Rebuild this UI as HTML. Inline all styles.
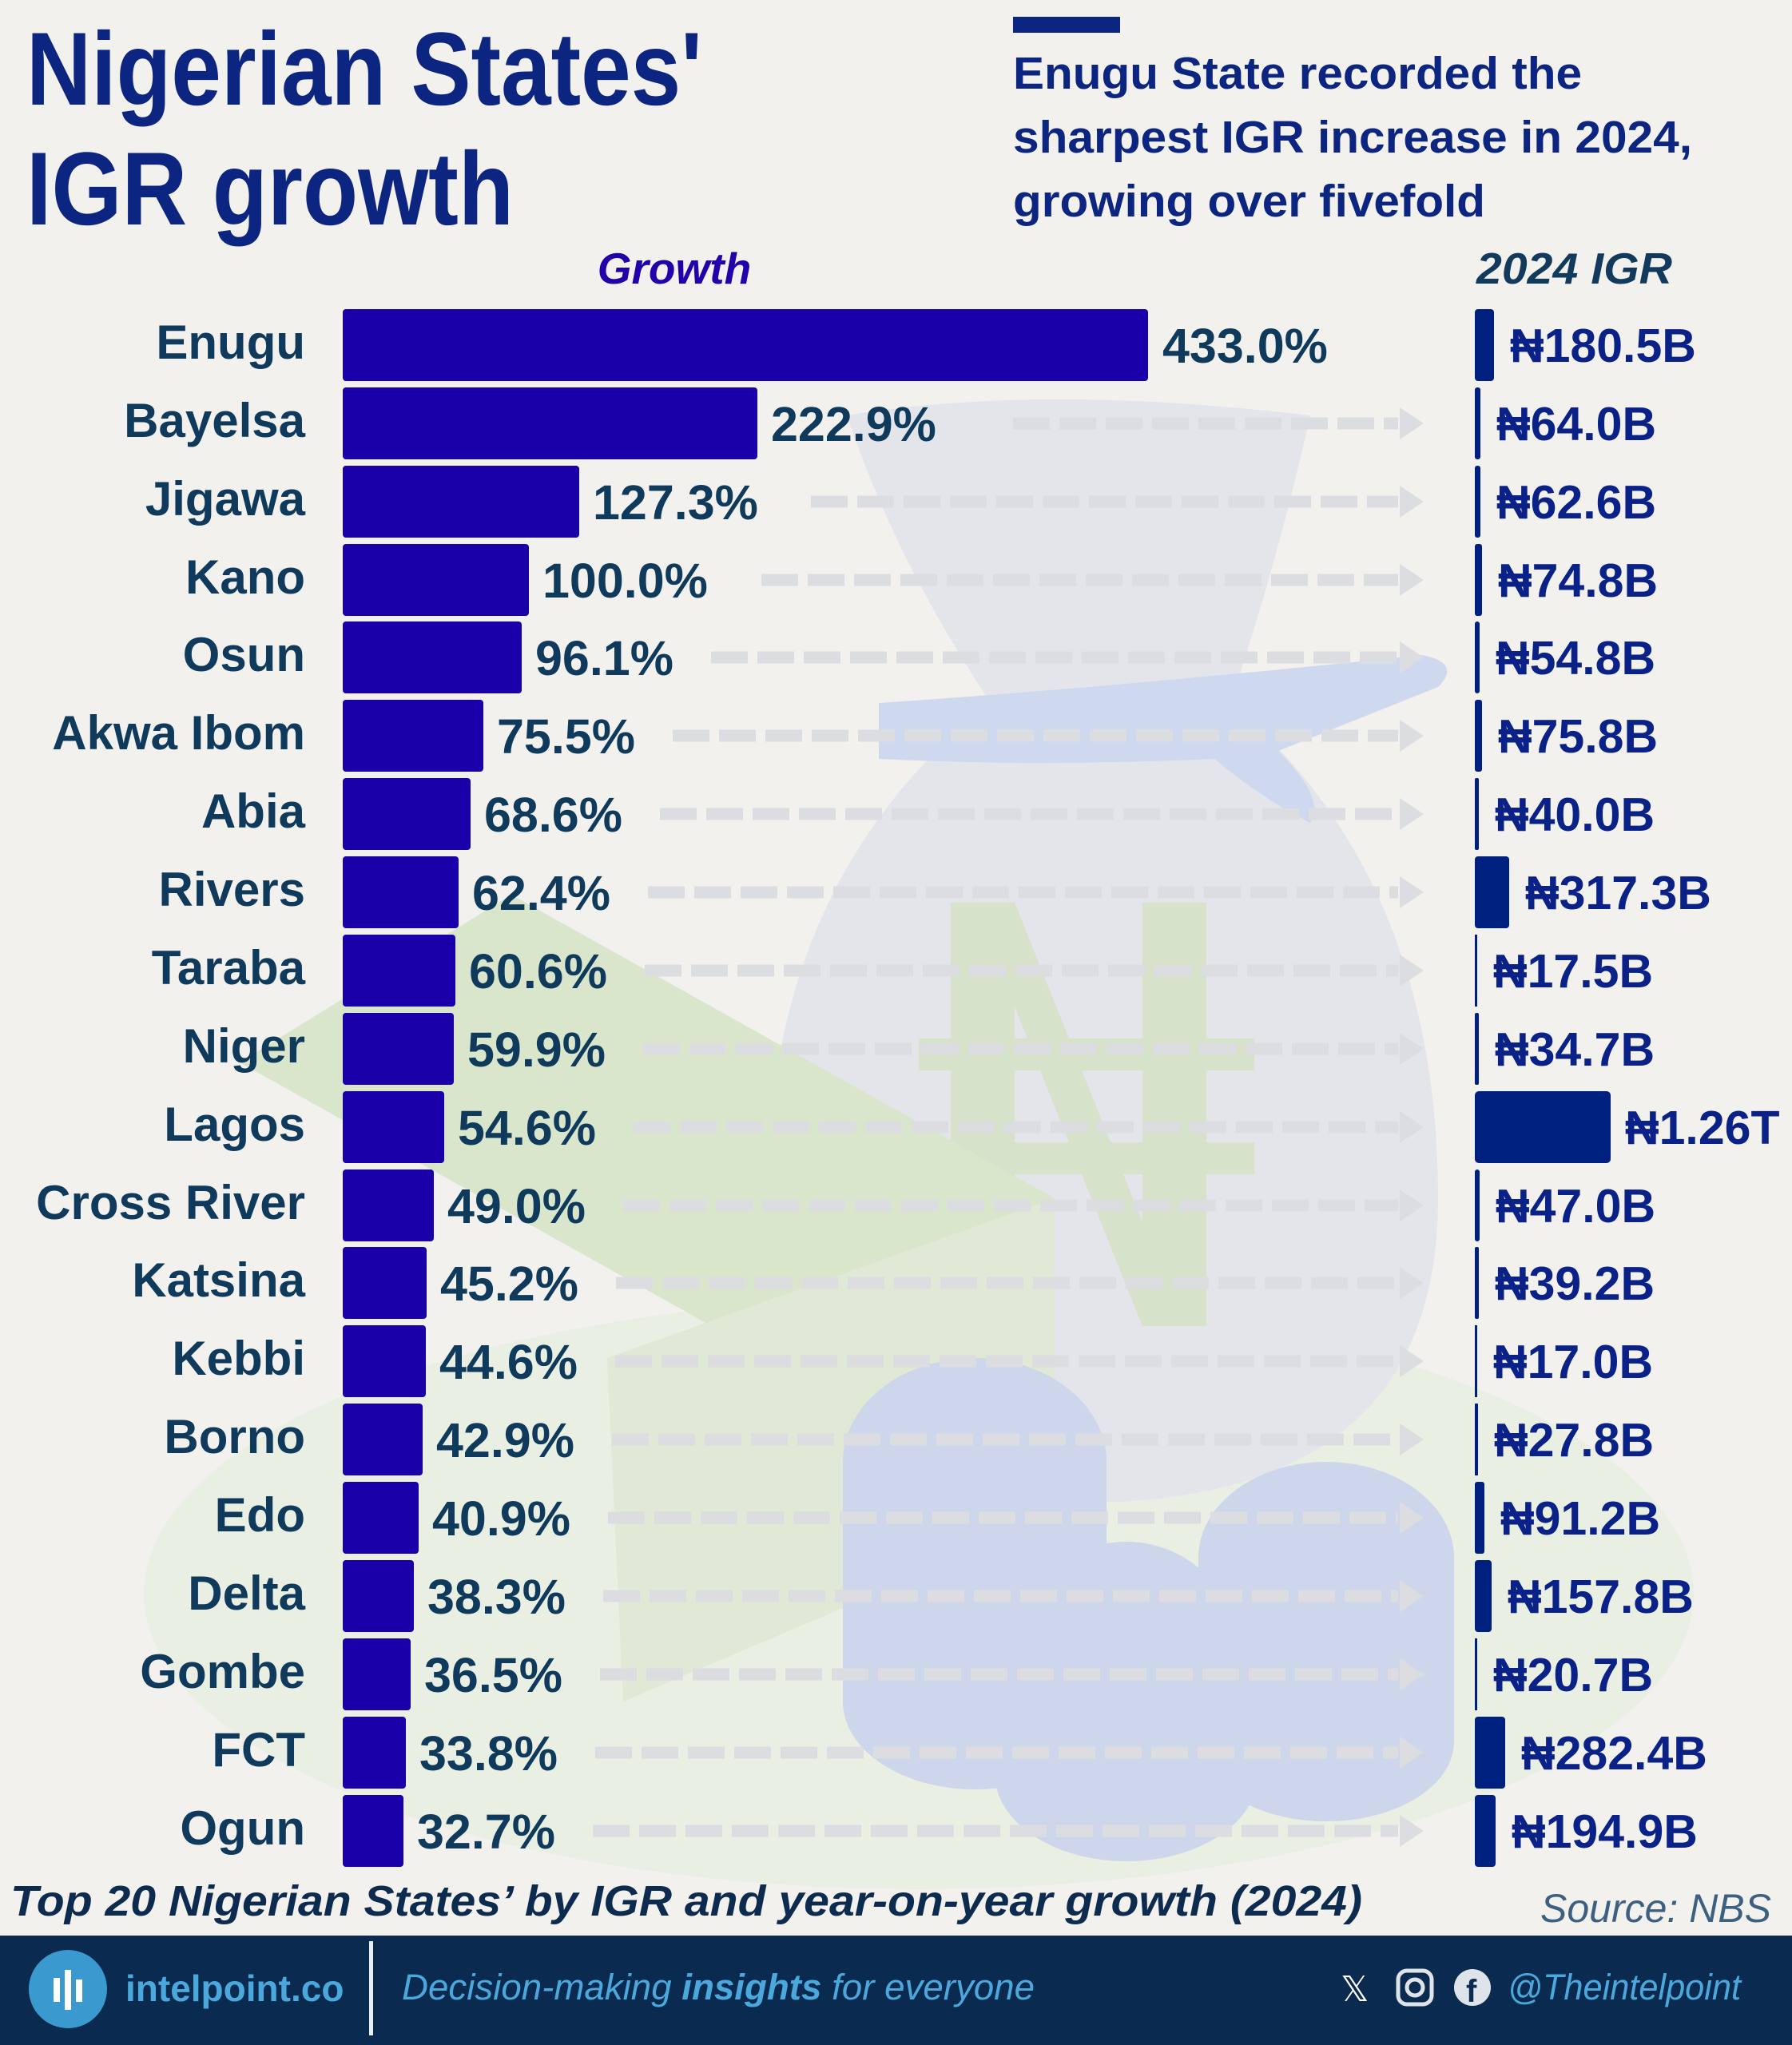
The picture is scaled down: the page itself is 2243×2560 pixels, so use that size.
<!DOCTYPE html>
<html><head><meta charset="utf-8"><style>
html,body{margin:0;padding:0;background:#f2f1ee}
svg{display:block}
.lab{font-family:"Liberation Sans",sans-serif;font-weight:bold;font-size:60px;fill:#0f3a5c}
.val{font-family:"Liberation Sans",sans-serif;font-weight:bold;font-size:61px;fill:#0f3a5c}
.rv{font-family:"Liberation Sans",sans-serif;font-weight:bold;font-size:59px;fill:#0a2288}
</style></head><body>
<svg width="2243" height="2560" viewBox="0 0 2243 2560" xmlns="http://www.w3.org/2000/svg">
<rect width="2243" height="2560" fill="#f2f1ee"/>
<!-- decorations -->
<ellipse cx="1150" cy="1995" rx="970" ry="370" fill="#e9efe2"/>
<path d="M1060 520 Q1300 480 1640 520 Q1600 700 1540 880 Q1800 1100 1800 1500 Q1800 1860 1400 1880 Q1000 1880 960 1500 Q960 1100 1240 880 Q1120 700 1060 520Z" fill="#e4e5ea"/>
<path d="M1100 880 Q1400 860 1780 820 Q1830 830 1800 860 Q1700 900 1600 940 Q1660 1000 1640 1030 Q1580 1000 1520 950 Q1300 960 1100 950Z" fill="#ced9ef"/>
<path d="M1190 1130 h80 l160 400 v-400 h80 v530 h-80 l-160 -400 v400 h-80z M1150 1300 h420 v40 h-420z M1150 1430 h420 v40 h-420z" fill="#d6e2c9"/>
<path d="M300 1330 L640 1120 L1320 1500 L980 1710Z" fill="#d9e6cc"/>
<path d="M760 1700 L1320 1500 L1320 1900 L780 2130Z" fill="#dfe9d5"/>
<g fill="#cdd6ea">
<ellipse cx="1220" cy="1830" rx="165" ry="130"/><rect x="1055" y="1830" width="330" height="300"/><ellipse cx="1220" cy="2130" rx="165" ry="110"/>
<ellipse cx="1660" cy="1950" rx="160" ry="120"/><rect x="1500" y="1950" width="320" height="230"/><ellipse cx="1660" cy="2180" rx="160" ry="100"/>
<ellipse cx="1410" cy="2080" rx="145" ry="150"/><ellipse cx="1410" cy="2220" rx="165" ry="110"/>
</g>
<!-- title -->
<text x="33" y="131" font-family="Liberation Sans,sans-serif" font-weight="bold" font-size="130" fill="#0b2580" textLength="846" lengthAdjust="spacingAndGlyphs">Nigerian States'</text>
<text x="33" y="281" font-family="Liberation Sans,sans-serif" font-weight="bold" font-size="130" fill="#0b2580" textLength="610" lengthAdjust="spacingAndGlyphs">IGR growth</text>
<rect x="1268" y="21" width="134" height="20" fill="#0b2580"/>
<g font-family="Liberation Sans,sans-serif" font-weight="bold" font-size="57" fill="#0b2580">
<text x="1268" y="111" textLength="712" lengthAdjust="spacingAndGlyphs">Enugu State recorded the</text>
<text x="1268" y="191" textLength="850" lengthAdjust="spacingAndGlyphs">sharpest IGR increase in 2024,</text>
<text x="1268" y="271" textLength="591" lengthAdjust="spacingAndGlyphs">growing over fivefold</text>
</g>
<text x="844" y="355" text-anchor="middle" font-family="Liberation Sans,sans-serif" font-weight="bold" font-style="italic" font-size="55" fill="#2200aa">Growth</text>
<text x="1848" y="355" font-family="Liberation Sans,sans-serif" font-weight="bold" font-style="italic" font-size="55" fill="#123a5c" textLength="245" lengthAdjust="spacingAndGlyphs">2024 IGR</text>
<!-- arrows -->
<g stroke="#dcdde0" stroke-width="15" stroke-dasharray="46 12" fill="none">
<path d="M1268 530 H1750"/><path d="M1015 628 H1750"/><path d="M953 726 H1750"/><path d="M890 823 H1750"/>
<path d="M842 921 H1750"/><path d="M826 1019 H1750"/><path d="M811 1117 H1750"/><path d="M807 1215 H1750"/>
<path d="M805 1313 H1750"/><path d="M793 1411 H1750"/><path d="M780 1509 H1750"/><path d="M771 1606 H1750"/>
<path d="M770 1704 H1750"/><path d="M766 1802 H1750"/><path d="M761 1900 H1750"/><path d="M755 1998 H1750"/>
<path d="M751 2096 H1750"/><path d="M745 2194 H1750"/><path d="M742 2292 H1750"/>
</g>
<g fill="#dcdde0">
<path d="M1752 510 l30 20 l-30 20z"/><path d="M1752 608 l30 20 l-30 20z"/><path d="M1752 706 l30 20 l-30 20z"/><path d="M1752 803 l30 20 l-30 20z"/>
<path d="M1752 901 l30 20 l-30 20z"/><path d="M1752 999 l30 20 l-30 20z"/><path d="M1752 1097 l30 20 l-30 20z"/><path d="M1752 1195 l30 20 l-30 20z"/>
<path d="M1752 1293 l30 20 l-30 20z"/><path d="M1752 1391 l30 20 l-30 20z"/><path d="M1752 1489 l30 20 l-30 20z"/><path d="M1752 1586 l30 20 l-30 20z"/>
<path d="M1752 1684 l30 20 l-30 20z"/><path d="M1752 1782 l30 20 l-30 20z"/><path d="M1752 1880 l30 20 l-30 20z"/><path d="M1752 1978 l30 20 l-30 20z"/>
<path d="M1752 2076 l30 20 l-30 20z"/><path d="M1752 2174 l30 20 l-30 20z"/><path d="M1752 2272 l30 20 l-30 20z"/>
</g>
<!-- growth bars -->
<g fill="#1a00a8">
<rect x="429" y="387" width="1008" height="90" rx="4"/>
<rect x="429" y="485" width="519" height="90" rx="4"/>
<rect x="429" y="583" width="296" height="90" rx="4"/>
<rect x="429" y="681" width="233" height="90" rx="4"/>
<rect x="429" y="778" width="224" height="90" rx="4"/>
<rect x="429" y="876" width="176" height="90" rx="4"/>
<rect x="429" y="974" width="160" height="90" rx="4"/>
<rect x="429" y="1072" width="145" height="90" rx="4"/>
<rect x="429" y="1170" width="141" height="90" rx="4"/>
<rect x="429" y="1268" width="139" height="90" rx="4"/>
<rect x="429" y="1366" width="127" height="90" rx="4"/>
<rect x="429" y="1464" width="114" height="90" rx="4"/>
<rect x="429" y="1561" width="105" height="90" rx="4"/>
<rect x="429" y="1659" width="104" height="90" rx="4"/>
<rect x="429" y="1757" width="100" height="90" rx="4"/>
<rect x="429" y="1855" width="95" height="90" rx="4"/>
<rect x="429" y="1953" width="89" height="90" rx="4"/>
<rect x="429" y="2051" width="85" height="90" rx="4"/>
<rect x="429" y="2149" width="79" height="90" rx="4"/>
<rect x="429" y="2247" width="76" height="90" rx="4"/>
</g>
<g class="lab" text-anchor="end">
<text x="382" y="449">Enugu</text><text x="382" y="547">Bayelsa</text><text x="382" y="645">Jigawa</text><text x="382" y="743">Kano</text>
<text x="382" y="840">Osun</text><text x="382" y="938">Akwa Ibom</text><text x="382" y="1036">Abia</text><text x="382" y="1134">Rivers</text>
<text x="382" y="1232">Taraba</text><text x="382" y="1330">Niger</text><text x="382" y="1428">Lagos</text><text x="382" y="1526">Cross River</text>
<text x="382" y="1623">Katsina</text><text x="382" y="1721">Kebbi</text><text x="382" y="1819">Borno</text><text x="382" y="1917">Edo</text>
<text x="382" y="2015">Delta</text><text x="382" y="2113">Gombe</text><text x="382" y="2211">FCT</text><text x="382" y="2309">Ogun</text>
</g>
<g class="val">
<text x="1455" y="454">433.0%</text><text x="965" y="552">222.9%</text><text x="742" y="650">127.3%</text><text x="679" y="748">100.0%</text>
<text x="670" y="845">96.1%</text><text x="622" y="943">75.5%</text><text x="606" y="1041">68.6%</text><text x="591" y="1139">62.4%</text>
<text x="587" y="1237">60.6%</text><text x="585" y="1335">59.9%</text><text x="573" y="1433">54.6%</text><text x="560" y="1531">49.0%</text>
<text x="551" y="1628">45.2%</text><text x="550" y="1726">44.6%</text><text x="546" y="1824">42.9%</text><text x="541" y="1922">40.9%</text>
<text x="535" y="2020">38.3%</text><text x="531" y="2118">36.5%</text><text x="525" y="2216">33.8%</text><text x="522" y="2314">32.7%</text>
</g>
<!-- IGR bars -->
<g fill="#002080">
<rect x="1846" y="387" width="24" height="90" rx="4"/>
<rect x="1846" y="485" width="7" height="90" rx="3"/>
<rect x="1846" y="583" width="7" height="90" rx="3"/>
<rect x="1846" y="681" width="9" height="90" rx="3"/>
<rect x="1846" y="778" width="6" height="90" rx="3"/>
<rect x="1846" y="876" width="9" height="90" rx="3"/>
<rect x="1846" y="974" width="5" height="90" rx="2"/>
<rect x="1846" y="1072" width="43" height="90" rx="4"/>
<rect x="1846" y="1170" width="3" height="90"/>
<rect x="1846" y="1268" width="5" height="90" rx="2"/>
<rect x="1846" y="1366" width="170" height="90" rx="5"/>
<rect x="1846" y="1464" width="6" height="90" rx="3"/>
<rect x="1846" y="1561" width="5" height="90" rx="2"/>
<rect x="1846" y="1659" width="3" height="90"/>
<rect x="1846" y="1757" width="4" height="90"/>
<rect x="1846" y="1855" width="12" height="90" rx="3"/>
<rect x="1846" y="1953" width="21" height="90" rx="4"/>
<rect x="1846" y="2051" width="3" height="90"/>
<rect x="1846" y="2149" width="38" height="90" rx="4"/>
<rect x="1846" y="2247" width="26" height="90" rx="4"/>
</g>
<g class="rv">
<text x="1890" y="453">₦180.5B</text><text x="1873" y="551">₦64.0B</text><text x="1873" y="649">₦62.6B</text><text x="1875" y="747">₦74.8B</text>
<text x="1872" y="844">₦54.8B</text><text x="1875" y="942">₦75.8B</text><text x="1871" y="1040">₦40.0B</text><text x="1909" y="1138">₦317.3B</text>
<text x="1869" y="1236">₦17.5B</text><text x="1871" y="1334">₦34.7B</text><text x="2034" y="1432">₦1.26T</text><text x="1872" y="1530">₦47.0B</text>
<text x="1871" y="1627">₦39.2B</text><text x="1869" y="1725">₦17.0B</text><text x="1870" y="1823">₦27.8B</text><text x="1878" y="1921">₦91.2B</text>
<text x="1887" y="2019">₦157.8B</text><text x="1869" y="2117">₦20.7B</text><text x="1904" y="2215">₦282.4B</text><text x="1892" y="2313">₦194.9B</text>
</g>
<!-- caption -->
<text x="13" y="2398" font-family="Liberation Sans,sans-serif" font-weight="bold" font-style="italic" font-size="54" fill="#0d2b4e" textLength="1692" lengthAdjust="spacingAndGlyphs">Top 20 Nigerian States’ by IGR and year-on-year growth (2024)</text>
<text x="2217" y="2406" text-anchor="end" font-family="Liberation Sans,sans-serif" font-style="italic" font-size="50" fill="#3d5f80">Source: NBS</text>
<!-- footer -->
<rect x="0" y="2423" width="2243" height="137" fill="#0a2a4f"/>
<circle cx="85" cy="2490" r="49" fill="#3a9ad0"/>
<rect x="67" y="2476" width="8" height="30" fill="#fff"/><rect x="81" y="2466" width="8" height="50" fill="#fff"/><rect x="95" y="2478" width="8" height="28" fill="#fff"/>
<text x="157" y="2505" font-family="Liberation Sans,sans-serif" font-weight="bold" font-size="46" fill="#4aa8dc">intelpoint.co</text>
<rect x="462" y="2430" width="5" height="118" fill="#e8eef5"/>
<text x="503" y="2503" font-family="Liberation Sans,sans-serif" font-style="italic" font-size="45" fill="#4aa8dc" textLength="792" lengthAdjust="spacingAndGlyphs">Decision-making <tspan font-weight="bold">insights</tspan> for everyone</text>
<text x="1678" y="2505" font-family="DejaVu Sans,sans-serif" font-size="44" fill="#ffffff">𝕏</text>
<rect x="1750" y="2467" width="42" height="42" rx="11" fill="none" stroke="#dfe4ea" stroke-width="5"/>
<circle cx="1771" cy="2488" r="10" fill="none" stroke="#dfe4ea" stroke-width="5"/>
<circle cx="1843" cy="2488" r="23" fill="#dfe4ea"/>
<text x="1835" y="2506" font-family="Liberation Sans,sans-serif" font-weight="bold" font-size="40" fill="#0a2a4f">f</text>
<text x="1887" y="2503" font-family="Liberation Sans,sans-serif" font-style="italic" font-size="45" fill="#4aa8dc" textLength="292" lengthAdjust="spacingAndGlyphs">@Theintelpoint</text>
</svg>
</body></html>
